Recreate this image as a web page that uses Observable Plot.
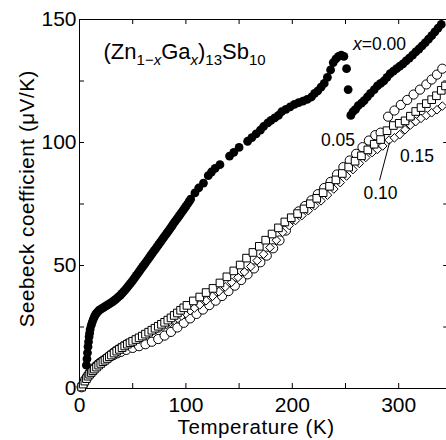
<!DOCTYPE html>
<html><head><meta charset="utf-8">
<script src="https://cdn.jsdelivr.net/npm/d3@7"></script>
<script src="https://cdn.jsdelivr.net/npm/@observablehq/plot@0.6"></script>
<style>
html,body{margin:0;padding:0;background:#fff;}
#chart{width:446px;height:440px;overflow:hidden;}
#chart svg, #chart svg text, #chart svg tspan {font-family: "Liberation Sans", Arial, Helvetica, sans-serif !important;}
</style></head><body><div id="chart"></div>
<script>
// x = 0.00 (filled circles): [Temperature K, Seebeck µV/K]
const seriesX000 = [[6.5,9.5],[7,12],[7.5,14.5],[8,17],[8.5,19],[9,21],[9.5,22.5],[10,24],[11,25.7],[12,27],[13,28.2],[14,29.2],[15,30],[16,30.6],[17,31.1],[18,31.6],[19,32],[20.5,32.4],[22,32.8],[23.5,33.2],[25,33.6],[26.5,34],[28,34.4],[29.5,34.8],[31,35.2],[32.5,35.7],[34,36.2],[35.5,36.8],[37,37.4],[38.5,38],[40,38.7],[41.5,39.4],[43,40.1],[44.5,40.9],[46,41.7],[47.5,42.5],[49,43.3],[50.5,44.2],[52,45.1],[53.5,46],[55,46.9],[56.5,47.8],[58,48.7],[59.5,49.6],[61,50.5],[62.5,51.4],[64,52.3],[65.5,53.2],[67,54.1],[68.5,55],[70,55.9],[71.5,56.8],[73,57.7],[74.5,58.6],[76,59.5],[77.5,60.4],[79,61.3],[80.5,62.2],[82,63.1],[83.5,64],[85,64.9],[86.5,65.8],[88,66.8],[89.5,67.7],[91,68.6],[92.5,69.5],[94,70.4],[95.5,71.3],[97,72.2],[98.5,73.1],[100,74],[101.5,75],[103,76],[104.5,77],
[108.5,79.5],[112,81.5],[116.5,83.5],[121,86.5],[124,88],[127.5,89.5],[132,91],[141,94.5],[145,96],[150,98],[158,100.5],[162,102],[166,103.5],[170,105],[173,106.5],[177,108],[180,109],[183.5,110],[187,111],[190,112.5],[194,113.5],[198,114.5],[202,115.5],[206,116.2],[210,116.8],[214,117.5],[218,118.5],[221,120],[224,121],[227,122.5],[230,124],[233,126.5],[236,129.5],[238.5,132.5],[241,134],[243.5,135],[246,135.5],[248.5,135],[251,130],[252.5,121.5],[255,111],[257,112.5],[259.5,113.5],[262,115],[265,116],[267.5,117],[270.5,118.5],[273.5,120],[277,121.5],[280,123],[283,124],[286,125],[289,126.5],[292,128],[295,129],[298,130],[301,131],[304,132],[307,133.2],[310,134.3],[313,135.5],[316,136.8],[319,138],[322,139.3],[325,140.6],[328,142],[331,143.4],[334,145],[337,146.5],[340,148]];

// x = 0.05 (open circles)
const seriesX005 = [[2,0.5],[3.5,1.8],[5,3],[6.5,4.2],[8,5.2],[9.5,6.2],[11,7],[13,8],[15,8.9],[17,9.7],[19,10.4],[21,11],[23.5,11.7],[26,12.3],[29,13],[32,13.6],[35.5,14.3],[39,14.9],[44,15.7],[50,16.5],[56,17.2],[62,18],[68,19],[74,20.1],[80,21.5],[86,23],[92,24.8],[98,26.7],[104,28.5],[110,30.3],[116,32.1],[122,33.9],[128,35.7],[134,37.6],[140,39.6],[146,41.8],[152,44.1],[158,46.4],[164,48.8],[170,51.3],[176,54],[182,57],[188,60.2],[194,64.2],[200,69],[206,72],[212,74.2],[218,76.5],[224,79],[230,81.5],[236,84],[242,87],[248,90],[254,92.7],[260,95.4],[266,98.1],[272,100.8],[278,103],[283,104],[290,110.5],[296,113],[302,115.3],[308,117.3],[314,119.5],[320,121.5],[326,123.6],[331,125.6],[336,127.6],[341,130]];

// x = 0.10 (open squares)
const seriesX010 = [[2,0.6],[3.5,1.8],[5,3],[6.5,4],[8,5],[9.5,5.8],[11,6.5],[12.5,7.2],[14,7.9],[16,8.7],[18,9.5],[20,10.2],[22,10.9],[24,11.5],[26,12.2],[28,12.9],[30,13.6],[32.5,14.4],[35,15.2],[37.5,15.9],[40,16.6],[42.5,17.3],[45,18],[47.5,18.6],[50,19.2],[53,19.9],[56,20.6],[59,21.3],[62,22.1],[65,22.9],[68,23.7],[71,24.5],[74,25.3],[77,26.1],[80,26.9],[83,27.8],[86,28.7],[89,29.7],[92,30.7],[95,31.8],[98,32.8],[101,33.8],[107,35.6],[113,37.2],[119,39],[125.5,40.7],[132,42.9],[138.5,45.4],[145,47.8],[151,50.2],[157,53],[163,55.3],[169,57.8],[175,60.3],[181,62.8],[187,65.3],[193,67.7],[199,69.4],[205,71.1],[211,73],[217,75.1],[223,77.3],[229,79.6],[235,82.2],[241,84.8],[247,87.4],[253,90],[259,92.4],[265,94.6],[271,97],[277,99.3],[283,101.2],[289,104.8],[295,106.9],[300.5,107.8],[306,108.8],[311,110.7],[316,112.6],[321,114.2],[326,115.8],[331,117.4],[335.5,119],[340,121.2],[344,123]];

// x = 0.15 (open diamonds)
const seriesX015 = [[2,0.8],[3.5,2.1],[5,3.3],[6.5,4.4],[8,5.4],[9.5,6.3],[11,7.1],[12.5,7.9],[14,8.6],[16,9.5],[18,10.3],[20,11],[22,11.7],[24,12.4],[26,13.1],[28,13.8],[30,14.5],[32.5,15.3],[35,16],[37.5,16.7],[40,17.4],[43.5,18.2],[47,18.9],[50.5,19.7],[54,20.4],[57.5,21.1],[61,21.8],[64.5,22.5],[68,23.2],[71.5,23.9],[75,24.6],[78.5,25.3],[82,26.1],[85.5,26.9],[89,27.7],[92.5,28.5],[96,29.5],[100,30.5],[104,31.6],[108,32.7],[113,34],[119,35.7],[125,37.5],[131,39.4],[137,41.3],[143,43.2],[149,45.2],[155,47.4],[161,49.6],[167,52],[173,54.6],[179,57.3],[185,60.3],[191,63.5],[197,66.3],[203,68.3],[209,70.3],[215,72.3],[221,74.3],[227,76.3],[233,78.6],[239,81.1],[245,83.7],[251,86.4],[257,89],[263,91.5],[269,93.9],[275,95.9],[280,97.2],[285,98.6],[291,101],[296,101.9],[301,103.2],[306,105.2],[311,107.1],[316,108.5],[321,109.8],[326,111],[331,112.1],[336,113.3],[341,114.8]];

const xMajorTicks = [0, 100, 200, 300];
const xAllTicks = [50, 100, 150, 200, 250, 300];
const yMajorTicks = [0, 50, 100, 150];
const yAllTicks = [25, 50, 75, 100, 125];

const seriesLabels = ["x=0.00", "0.05", "0.10", "0.15"];
const labelT = [282, 243, 282.9, 317.2];
const labelS = [139.7, 101, 79.5, 94.3];
const leaderT = [282, 291.4];
const leaderS = [84.6, 100];

const titleText = "(Zn1−xGax)13Sb10";
const titleParts = [["(Zn",0,0],["1−",1,0],["x",1,1],["Ga",0,0],["x",1,1],[")",0,0],["13",1,0],["Sb",0,0],["10",1,0]];
const titleT = 22.6, titleS = 137;
const xTitle = "Temperature (K)";
const yTitle = "Seebeck coefficient (μV/K)";

const toRows = (arr) => arr.map(([t, s]) => ({t, s}));
const labelRows = seriesLabels.map((label, i) => ({label, t: labelT[i], s: labelS[i]}));

const chart = Plot.plot({
  width: 446,
  height: 440,
  marginLeft: 79,
  marginTop: 19,
  marginBottom: 52,
  marginRight: -2.2,
  x: {domain: [0, 347]},
  y: {domain: [0, 150]},
  style: {fontSize: "21px", color: "black", background: "white"},
  marks: [
    Plot.frame({stroke: "black", strokeWidth: 1}),
    Plot.ruleX(xAllTicks, {y1: 0, y2: 0, insetBottom: 5, stroke: "black"}),
    Plot.ruleX(xAllTicks, {y1: 150, y2: 150, insetTop: 5, stroke: "black"}),
    Plot.ruleY(yAllTicks, {x1: 0, x2: 0, insetLeft: 5, stroke: "black"}),
    Plot.ruleY(yAllTicks, {x1: 347, x2: 347, insetRight: 5, stroke: "black"}),
    Plot.axisX({ticks: xMajorTicks, tickSize: 0, tickPadding: 9, label: null, fontSize: 21}),
    Plot.axisY({ticks: yMajorTicks, tickSize: 0, tickPadding: 3, label: null, fontSize: 21}),
    Plot.text([xTitle], {x: 166, frameAnchor: "bottom", textAnchor: "middle", lineAnchor: "middle", dy: 38.6, fontSize: 20.5}),
    Plot.text([yTitle], {y: 77.2, frameAnchor: "left", textAnchor: "middle", lineAnchor: "middle", rotate: -90, dx: -52, fontSize: 20.5}),
    Plot.dot(toRows(seriesX005), {x: "t", y: "s", r: 4.6, fill: "white", stroke: "black", strokeWidth: 1}),
    Plot.dot(toRows(seriesX015), {x: "t", y: "s", r: 3.9, symbol: "diamond2", fill: "white", stroke: "black", strokeWidth: 1}),
    Plot.dot(toRows(seriesX010), {x: "t", y: "s", r: 4.3, symbol: "square", fill: "white", stroke: "black", strokeWidth: 1}),
    Plot.dot(toRows(seriesX000), {x: "t", y: "s", r: 4.4, fill: "black", stroke: "none"}),
    Plot.link([0], {x1: () => leaderT[0], y1: () => leaderS[0], x2: () => leaderT[1], y2: () => leaderS[1], stroke: "black", strokeWidth: 1}),
    Plot.text(labelRows, {x: "t", y: "s", text: "label", fontSize: 17.5, textAnchor: "middle", lineAnchor: "middle"}),
    Plot.text([titleText], {x: () => titleT, y: () => titleS, fontSize: 22, textAnchor: "start", lineAnchor: "middle"})
  ]
});

function richify(svg, content, parts, subSize, shift) {
  for (const el of svg.querySelectorAll("text")) {
    if (el.textContent !== content) continue;
    el.textContent = "";
    let inSub = false;
    for (const [txt, sub, it] of parts) {
      const ts = document.createElementNS("http://www.w3.org/2000/svg", "tspan");
      ts.textContent = txt;
      if (sub && !inSub) ts.setAttribute("dy", shift);
      if (!sub && inSub) ts.setAttribute("dy", -shift);
      if (sub) ts.setAttribute("font-size", subSize);
      if (it) ts.setAttribute("font-style", "italic");
      inSub = !!sub;
      el.appendChild(ts);
    }
  }
}
richify(chart, titleText, titleParts, 15, 6.5);
richify(chart, "x=0.00", [["x",0,1],["=0.00",0,0]], 17.5, 0);
for (const el of chart.querySelectorAll("text")) {
  if (el.textContent === xTitle || el.textContent === yTitle) el.style.letterSpacing = "0.6px";
}
document.getElementById("chart").appendChild(chart);
</script></body></html>
